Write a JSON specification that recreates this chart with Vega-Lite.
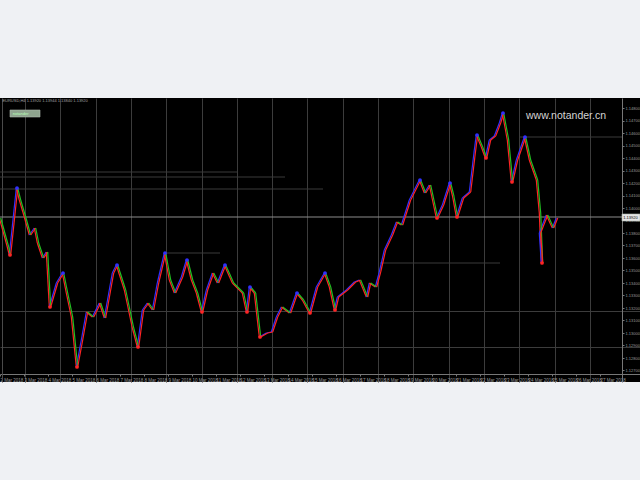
{
  "$schema": "https://vega.github.io/schema/vega-lite/v6.json",
  "width": 640,
  "height": 284,
  "autosize": {"type": "none"},
  "padding": {"left": 0, "right": 0, "top": 98, "bottom": 98},
  "background": "#eff1f4",
  "config": {"view": {"fill": "#000000", "stroke": null}, "font": "Liberation Sans"},
  "datasets": {
    "seg": [
      {"t":0,"p":1.1392,"t2":2,"p2":1.13688},
      {"t":2,"p":1.13688,"t2":2.5,"p2":1.13624},
      {"t":2.5,"p":1.13624,"t2":4.25,"p2":1.1416,"k":"lo"},
      {"t":4.25,"p":1.1416,"t2":5,"p2":1.14064,"k":"hi"},
      {"t":5,"p":1.14064,"t2":6.25,"p2":1.13928},
      {"t":6.25,"p":1.13928,"t2":7.5,"p2":1.13784},
      {"t":7.5,"p":1.13784,"t2":8.75,"p2":1.1384},
      {"t":8.75,"p":1.1384,"t2":9.5,"p2":1.1372},
      {"t":9.5,"p":1.1372,"t2":10.75,"p2":1.136},
      {"t":10.75,"p":1.136,"t2":11.75,"p2":1.13648},
      {"t":11.75,"p":1.13648,"t2":12.5,"p2":1.13208},
      {"t":12.5,"p":1.13208,"t2":14.25,"p2":1.134,"k":"lo"},
      {"t":14.25,"p":1.134,"t2":15.75,"p2":1.1348},
      {"t":15.75,"p":1.1348,"t2":16.75,"p2":1.1332,"k":"hi"},
      {"t":16.75,"p":1.1332,"t2":18,"p2":1.13128},
      {"t":18,"p":1.13128,"t2":19.25,"p2":1.12728},
      {"t":19.25,"p":1.12728,"t2":20.5,"p2":1.12944,"k":"lo"},
      {"t":20.5,"p":1.12944,"t2":21.75,"p2":1.13168},
      {"t":21.75,"p":1.13168,"t2":23.25,"p2":1.13128},
      {"t":23.25,"p":1.13128,"t2":25,"p2":1.1324},
      {"t":25,"p":1.1324,"t2":26.25,"p2":1.1312},
      {"t":26.25,"p":1.1312,"t2":28.25,"p2":1.1348},
      {"t":28.25,"p":1.1348,"t2":29.25,"p2":1.13544},
      {"t":29.25,"p":1.13544,"t2":31.25,"p2":1.13344,"k":"hi"},
      {"t":31.25,"p":1.13344,"t2":33.25,"p2":1.1304},
      {"t":33.25,"p":1.1304,"t2":34.5,"p2":1.12888},
      {"t":34.5,"p":1.12888,"t2":35.75,"p2":1.13184,"k":"lo"},
      {"t":35.75,"p":1.13184,"t2":37,"p2":1.1324},
      {"t":37,"p":1.1324,"t2":38.25,"p2":1.13184},
      {"t":38.25,"p":1.13184,"t2":39.5,"p2":1.134},
      {"t":39.5,"p":1.134,"t2":41.25,"p2":1.1364},
      {"t":41.25,"p":1.1364,"t2":42.5,"p2":1.13424,"k":"hi"},
      {"t":42.5,"p":1.13424,"t2":43.75,"p2":1.1332},
      {"t":43.75,"p":1.1332,"t2":45.5,"p2":1.13448},
      {"t":45.5,"p":1.13448,"t2":46.75,"p2":1.13584},
      {"t":46.75,"p":1.13584,"t2":48,"p2":1.13424,"k":"hi"},
      {"t":48,"p":1.13424,"t2":49.25,"p2":1.1332},
      {"t":49.25,"p":1.1332,"t2":50.5,"p2":1.13168},
      {"t":50.5,"p":1.13168,"t2":51.75,"p2":1.13344,"k":"lo"},
      {"t":51.75,"p":1.13344,"t2":53.25,"p2":1.1348},
      {"t":53.25,"p":1.1348,"t2":54.5,"p2":1.134},
      {"t":54.5,"p":1.134,"t2":56.25,"p2":1.13544},
      {"t":56.25,"p":1.13544,"t2":58.25,"p2":1.134,"k":"hi"},
      {"t":58.25,"p":1.134,"t2":60.75,"p2":1.1332},
      {"t":60.75,"p":1.1332,"t2":61.75,"p2":1.13168},
      {"t":61.75,"p":1.13168,"t2":62.5,"p2":1.13368,"k":"lo"},
      {"t":62.5,"p":1.13368,"t2":63.75,"p2":1.1332,"k":"hi"},
      {"t":63.75,"p":1.1332,"t2":65,"p2":1.12968},
      {"t":65,"p":1.12968,"t2":66.75,"p2":1.13,"k":"lo"},
      {"t":66.75,"p":1.13,"t2":68,"p2":1.13008},
      {"t":68,"p":1.13008,"t2":69.25,"p2":1.13128},
      {"t":69.25,"p":1.13128,"t2":70.5,"p2":1.13208},
      {"t":70.5,"p":1.13208,"t2":72.5,"p2":1.1316},
      {"t":72.5,"p":1.1316,"t2":74.25,"p2":1.1332},
      {"t":74.25,"p":1.1332,"t2":75.75,"p2":1.13264,"k":"hi"},
      {"t":75.75,"p":1.13264,"t2":77.5,"p2":1.1316},
      {"t":77.5,"p":1.1316,"t2":79.25,"p2":1.13368,"k":"lo"},
      {"t":79.25,"p":1.13368,"t2":81.25,"p2":1.1348},
      {"t":81.25,"p":1.1348,"t2":82.5,"p2":1.13368,"k":"hi"},
      {"t":82.5,"p":1.13368,"t2":83.75,"p2":1.13184},
      {"t":83.75,"p":1.13184,"t2":84.5,"p2":1.13288,"k":"lo"},
      {"t":84.5,"p":1.13288,"t2":86.75,"p2":1.13344},
      {"t":86.75,"p":1.13344,"t2":88.75,"p2":1.13408},
      {"t":88.75,"p":1.13408,"t2":90,"p2":1.13424},
      {"t":90,"p":1.13424,"t2":91.75,"p2":1.13288},
      {"t":91.75,"p":1.13288,"t2":92.5,"p2":1.134},
      {"t":92.5,"p":1.134,"t2":94,"p2":1.13368},
      {"t":94,"p":1.13368,"t2":95,"p2":1.13488},
      {"t":95,"p":1.13488,"t2":96.25,"p2":1.13664},
      {"t":96.25,"p":1.13664,"t2":98,"p2":1.13784},
      {"t":98,"p":1.13784,"t2":99.25,"p2":1.13888},
      {"t":99.25,"p":1.13888,"t2":100.5,"p2":1.13864},
      {"t":100.5,"p":1.13864,"t2":102.5,"p2":1.14064},
      {"t":102.5,"p":1.14064,"t2":105,"p2":1.14224},
      {"t":105,"p":1.14224,"t2":106.25,"p2":1.1412,"k":"hi"},
      {"t":106.25,"p":1.1412,"t2":107.5,"p2":1.14184},
      {"t":107.5,"p":1.14184,"t2":109.25,"p2":1.1392},
      {"t":109.25,"p":1.1392,"t2":110.75,"p2":1.14024,"k":"lo"},
      {"t":110.75,"p":1.14024,"t2":112.5,"p2":1.142},
      {"t":112.5,"p":1.142,"t2":113.25,"p2":1.14104,"k":"hi"},
      {"t":113.25,"p":1.14104,"t2":114.25,"p2":1.13928},
      {"t":114.25,"p":1.13928,"t2":115.75,"p2":1.1408,"k":"lo"},
      {"t":115.75,"p":1.1408,"t2":117.5,"p2":1.14128},
      {"t":117.5,"p":1.14128,"t2":118.75,"p2":1.14464},
      {"t":118.75,"p":1.14464,"t2":119.25,"p2":1.14584},
      {"t":119.25,"p":1.14584,"t2":120.5,"p2":1.14488,"k":"hi"},
      {"t":120.5,"p":1.14488,"t2":121.5,"p2":1.144},
      {"t":121.5,"p":1.144,"t2":122.5,"p2":1.14544,"k":"lo"},
      {"t":122.5,"p":1.14544,"t2":123.75,"p2":1.14576},
      {"t":123.75,"p":1.14576,"t2":125,"p2":1.1468},
      {"t":125,"p":1.1468,"t2":125.75,"p2":1.1476},
      {"t":125.75,"p":1.1476,"t2":127,"p2":1.14544,"k":"hi"},
      {"t":127,"p":1.14544,"t2":128,"p2":1.14208},
      {"t":128,"p":1.14208,"t2":129.25,"p2":1.14384,"k":"lo"},
      {"t":129.25,"p":1.14384,"t2":131.25,"p2":1.14568},
      {"t":131.25,"p":1.14568,"t2":132.5,"p2":1.14384,"k":"hi"},
      {"t":132.5,"p":1.14384,"t2":134.25,"p2":1.14224},
      {"t":134.25,"p":1.14224,"t2":135,"p2":1.1396},
      {"t":135,"p":1.1396,"t2":135.5,"p2":1.1356},
      {"t":135.5,"p":1.1356,"t2":135,"p2":1.138,"k":"lo"},
      {"t":135,"p":1.138,"t2":136.75,"p2":1.13944},
      {"t":136.75,"p":1.13944,"t2":138.25,"p2":1.1384},
      {"t":138.25,"p":1.1384,"t2":139.25,"p2":1.1392}
    ],
    "levels": [
      {"t":0,"t2":59.25,"p":1.14288},
      {"t":0,"t2":71.25,"p":1.14248},
      {"t":0,"t2":80.75,"p":1.14152},
      {"t":130,"t2":155.5,"p":1.14568},
      {"t":95,"t2":125,"p":1.1356},
      {"t":41.75,"t2":55,"p":1.1364}
    ]
  },
  "resolve": {"axis": {"x": "independent", "y": "independent"}},
  "layer": [
    {
      "data": {"name": "levels"},
      "mark": {"type": "rule", "color": "#3a3a3a", "strokeWidth": 1},
      "encoding": {
        "x": {"field": "t", "type": "quantitative",
              "scale": {"domain": [0, 160], "nice": false, "zero": false},
              "axis": {"orient": "top", "title": null, "labels": false, "ticks": false, "domain": false,
                       "grid": true, "gridColor": "#3c3c3c", "gridWidth": 1,
                       "values": [6.25,15.08,23.9,32.73,41.55,50.38,59.2,68.03,76.85,85.68,94.5,103.33,112.15,120.98,129.8,138.63,147.45]}},
        "x2": {"field": "t2"},
        "y": {"field": "p", "type": "quantitative",
              "scale": {"domain": [1.12608, 1.1488], "nice": false, "zero": false},
              "axis": {"orient": "left", "title": null, "labels": false, "ticks": false,
                       "domain": true, "domainColor": "#4a4a4a", "offset": -2,
                       "grid": true, "gridColor": "#3c3c3c", "gridWidth": 1,
                       "values": [1.13176, 1.12888]}}
      }
    },
    {
      "data": {"values": [{"t": 0, "t2": 155.5, "p": 1.13928}]},
      "mark": {"type": "rule", "color": "#8c8c8c", "strokeWidth": 1},
      "encoding": {
        "x": {"field": "t", "type": "quantitative", "scale": {"domain": [0, 160], "nice": false, "zero": false}, "axis": null},
        "x2": {"field": "t2"},
        "y": {"field": "p", "type": "quantitative", "scale": {"domain": [1.12608, 1.1488], "nice": false, "zero": false}, "axis": null}
      }
    },
    {
      "data": {"name": "seg"},
      "mark": {"type": "rule", "strokeWidth": 1.2, "xOffset": -0.7, "x2Offset": -0.7},
      "encoding": {
        "x": {"field": "t", "type": "quantitative",
              "scale": {"domain": [0, 160], "nice": false, "zero": false},
              "axis": {"orient": "bottom", "title": null, "offset": -8, "values": [0,6,12,18,24,30,36,42,48,54,60,66,72,78,84,90,96,102,108,114,120,126,132,138,144,150],
                       "labelExpr": "(floor(datum.value/6)+2) + ' Mar 2018'",
                       "labelFontSize": 4.5, "labelColor": "#9a9a9a", "labelAlign": "left", "labelPadding": 1,
                       "labelBaseline": "top", "labelFlush": false, "labelOverlap": false,
                       "tickSize": 2, "tickColor": "#777777", "domainColor": "#777777", "grid": false}},
        "x2": {"field": "t2"},
        "y": {"field": "p", "type": "quantitative",
              "scale": {"domain": [1.12608, 1.1488], "nice": false, "zero": false},
              "axis": {"orient": "right", "title": null, "offset": -18, "format": ".5f",
                       "values": [1.148,1.147,1.146,1.145,1.144,1.143,1.142,1.141,1.14,1.139,1.138,1.137,1.136,1.135,1.134,1.133,1.132,1.131,1.13,1.129,1.128,1.127],
                       "labelFontSize": 4, "labelColor": "#9a9a9a", "labelPadding": 1, "labelOverlap": false, "labelFlush": false,
                       "tickSize": 2, "tickColor": "#777777", "domainColor": "#777777", "grid": false}},
        "y2": {"field": "p2"},
        "color": {"condition": {"test": "datum.p2 > datum.p", "value": "#3030ff"}, "value": "#ff2424"}
      }
    },
    {
      "data": {"name": "seg"},
      "mark": {"type": "rule", "strokeWidth": 1.2, "xOffset": 0.7, "x2Offset": 0.7},
      "encoding": {
        "x": {"field": "t", "type": "quantitative", "scale": {"domain": [0, 160], "nice": false, "zero": false}, "axis": null},
        "x2": {"field": "t2"},
        "y": {"field": "p", "type": "quantitative", "scale": {"domain": [1.12608, 1.1488], "nice": false, "zero": false}, "axis": null},
        "y2": {"field": "p2"},
        "color": {"condition": {"test": "datum.p2 > datum.p", "value": "#ff2424"}, "value": "#22c022"}
      }
    },
    {
      "data": {"name": "seg"},
      "transform": [{"filter": "datum.k"}],
      "mark": {"type": "circle", "size": 14, "opacity": 1},
      "encoding": {
        "x": {"field": "t", "type": "quantitative", "scale": {"domain": [0, 160], "nice": false, "zero": false}, "axis": null},
        "y": {"field": "p", "type": "quantitative", "scale": {"domain": [1.12608, 1.1488], "nice": false, "zero": false}, "axis": null},
        "color": {"condition": {"test": "datum.k == 'hi'", "value": "#3030ff"}, "value": "#ff2424"}
      }
    },
    {
      "data": {"values": [
        {"t": 2.5, "t2": 10, "p": 1.14784, "p2": 1.14728, "c": "#8fa48f"},
        {"t": 155.5, "t2": 160, "p": 1.13952, "p2": 1.13896, "c": "#e4e4e4"}
      ]},
      "mark": {"type": "rect", "stroke": "#b0b8b0", "strokeWidth": 0.6},
      "encoding": {
        "x": {"field": "t", "type": "quantitative", "scale": {"domain": [0, 160], "nice": false, "zero": false}, "axis": null},
        "x2": {"field": "t2"},
        "y": {"field": "p", "type": "quantitative", "scale": {"domain": [1.12608, 1.1488], "nice": false, "zero": false}, "axis": null},
        "y2": {"field": "p2"},
        "fill": {"field": "c", "type": "nominal", "scale": null}
      }
    },
    {
      "data": {"values": [
        {"t": 0.6, "p": 1.14856, "s": "EURUSD,H4  1.13920 1.13944 1.13840 1.13920", "c": "#a0a0a0"},
        {"t": 155.8, "p": 1.13924, "s": "1.13920", "c": "#000000"},
        {"t": 3.2, "p": 1.14756, "s": "notander", "c": "#b8ffb8"}
      ]},
      "mark": {"type": "text", "align": "left", "baseline": "middle", "fontSize": 4},
      "encoding": {
        "x": {"field": "t", "type": "quantitative", "scale": {"domain": [0, 160], "nice": false, "zero": false}, "axis": null},
        "y": {"field": "p", "type": "quantitative", "scale": {"domain": [1.12608, 1.1488], "nice": false, "zero": false}, "axis": null},
        "text": {"field": "s"},
        "color": {"field": "c", "type": "nominal", "scale": null}
      }
    },
    {
      "data": {"values": [{"t": 141.5, "p": 1.14736, "s": "www.notander.cn"}]},
      "mark": {"type": "text", "align": "center", "baseline": "middle", "fontSize": 10.5, "color": "#d4d4d4"},
      "encoding": {
        "x": {"field": "t", "type": "quantitative", "scale": {"domain": [0, 160], "nice": false, "zero": false}, "axis": null},
        "y": {"field": "p", "type": "quantitative", "scale": {"domain": [1.12608, 1.1488], "nice": false, "zero": false}, "axis": null},
        "text": {"field": "s"}
      }
    }
  ]
}
